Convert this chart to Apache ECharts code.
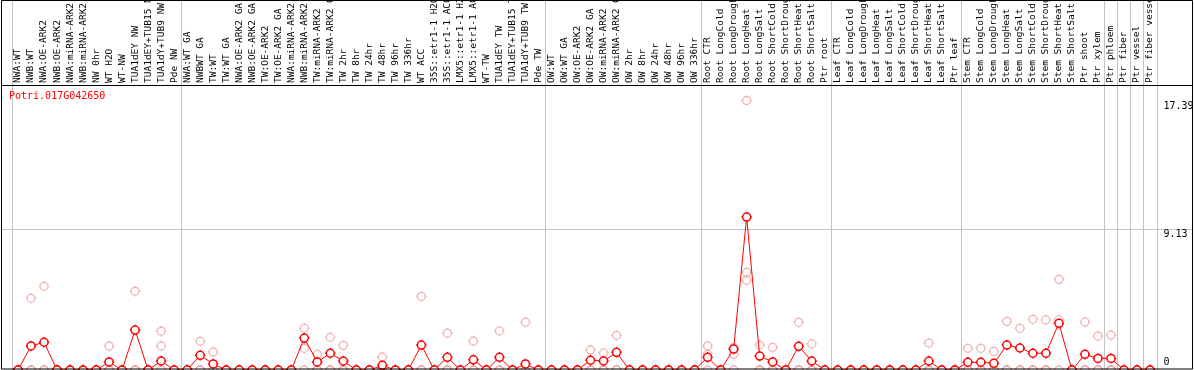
<!DOCTYPE html>
<html>
<head>
<meta charset="utf-8">
<script src="https://cdn.jsdelivr.net/npm/echarts@6/dist/echarts.min.js"></script>
<style>
html,body{margin:0;padding:0;background:#fff;}
#c{width:1194px;height:370px;}
</style>
</head>
<body>
<div id="c"></div>
<script>
// ---------- data ----------
const geneName = 'Potri.017G042650';

const categories = [
  'NWA:WT','NWB:WT','NWA:OE-ARK2','NWB:OE-ARK2','NWA:miRNA-ARK2','NWB:miRNA-ARK2','NW 0hr','WT H2O','WT-NW','TUA1dEY NW','TUA1dEY+TUB15 NW','TUA1dY+TUB9 NW','Pde NW',
  'NWA:WT GA','NWBWT GA','TW:WT','TW:WT GA','NWA:OE-ARK2 GA','NWB:OE-ARK2 GA','TW:OE-ARK2','TW:OE-ARK2 GA','NWA:miRNA-ARK2 GA','NWB:miRNA-ARK2 GA','TW:miRNA-ARK2','TW:miRNA-ARK2 GA','TW 2hr','TW 8hr','TW 24hr','TW 48hr','TW 96hr','TW 336hr','WT ACC','35S::etr1-1 H2O','35S::etr1-1 ACC','LMX5::etr1-1 H2O','LMX5::etr1-1 ACC','WT-TW','TUA1dEY TW','TUA1dEY+TUB15 TW','TUA1dY+TUB9 TW','Pde TW',
  'OW:WT','OW:WT GA','OW:OE-ARK2','OW:OE-ARK2 GA','OW:miRNA-ARK2','OW:miRNA-ARK2 GA','OW 2hr','OW 8hr','OW 24hr','OW 48hr','OW 96hr','OW 336hr',
  'Root CTR','Root LongCold','Root LongDrought','Root LongHeat','Root LongSalt','Root ShortCold','Root ShortDrought','Root ShortHeat','Root ShortSalt','Ptr root',
  'Leaf CTR','Leaf LongCold','Leaf LongDrought','Leaf LongHeat','Leaf LongSalt','Leaf ShortCold','Leaf ShortDrought','Leaf ShortHeat','Leaf ShortSalt','Ptr leaf',
  'Stem CTR','Stem LongCold','Stem LongDrought','Stem LongHeat','Stem LongSalt','Stem ShortCold','Stem ShortDrought','Stem ShortHeat','Stem ShortSalt','Ptr shoot','Ptr xylem',
  'Ptr phloem','Ptr fiber','Ptr vessel','Ptr fiber vessel'
];

// number of categories in each separated block
const groupSizes = [13, 28, 12, 10, 10, 11, 1, 1, 1, 1];

// mean expression (red line)
const meanValues = [
  0, 1.55, 1.79, 0, 0, 0, 0, 0.52, 0, 2.58, 0, 0.58, 0,
  0, 0.95, 0.39, 0, 0, 0, 0, 0, 0, 2.06, 0.52, 1.08, 0.58, 0, 0, 0.30, 0, 0, 1.61, 0, 0.82, 0, 0.66, 0, 0.82, 0, 0.39, 0,
  0, 0, 0, 0.63, 0.58, 1.14, 0, 0, 0, 0, 0, 0,
  0.82, 0, 1.35, 9.87, 0.90, 0.52, 0, 1.53, 0.58, 0,
  0, 0, 0, 0, 0, 0, 0, 0.58, 0, 0,
  0.50, 0.50, 0.43, 1.61, 1.42, 1.08, 1.08, 3.01, 0, 1.01, 0.75,
  0.75, 0, 0, 0
];

// replicate values (pink circles)
const replicate1 = [
  0, 4.63, 5.40, 0, 0, 0, 0, 1.55, 0, 5.08, 0, 2.50, 0,
  0, 1.85, 1.16, 0, 0, 0, 0, 0, 0, 2.69, 1.01, 2.11, 1.59, 0, 0, 0.84, 0, 0, 4.75, 0, 2.37, 0, 1.87, 0, 2.52, 0, 3.08, 0,
  0, 0, 0, 1.29, 1.10, 2.24, 0, 0, 0, 0, 0, 0,
  1.55, 0, 1.46, 17.39, 1.61, 1.46, 0, 3.08, 1.68, 0,
  0, 0, 0, 0, 0, 0, 0, 1.74, 0, 0,
  1.40, 1.40, 1.20, 3.14, 2.69, 3.27, 3.23, 5.85, 0, 3.10, 2.19,
  2.26, 0, 0, 0
];
const replicate2 = [
  0, 0, 0, 0, 0, 0, 0, 0, 0, 0, 0, 1.55, 0,
  0, 0, 0, 0, 0, 0, 0, 0, 0, 1.40, 0, 0, 0, 0, 0, 0, 0, 0, 0, 0, 0, 0, 0, 0, 0, 0, 0, 0,
  0, 0, 0, 0, 0, 0, 0, 0, 0, 0, 0, 0,
  1.01, 0, 1.01, 6.30, 0, 0, 0, 0, 0, 0,
  0, 0, 0, 0, 0, 0, 0, 0, 0, 0,
  0, 0, 0, 0, 0, 0, 0, 3.23, 0, 0, 0,
  0, 0, 0, 0
];
const replicate3 = [
  0, 0, 0, 0, 0, 0, 0, 0, 0, 0, 0, 0, 0,
  0, 0, 0, 0, 0, 0, 0, 0, 0, 0, 0, 0, 0, 0, 0, 0, 0, 0, 0, 0, 0, 0, 0, 0, 0, 0, 0, 0,
  0, 0, 0, 0, 0, 0, 0, 0, 0, 0, 0, 0,
  0, 0, 0, 5.79, 0, 0, 0, 0, 0, 0,
  0, 0, 0, 0, 0, 0, 0, 0, 0, 0,
  0, 0, 0, 0, 0, 0, 0, 0, 0, 0, 0,
  0, 0, 0, 0
];

// y tick labels shown at the right
const yTickValues = [0, 9.13, 17.39];
const yGridValues = [9.13];
const yMax = 18.39;

// ---------- chart ----------
const MONO = '"DejaVu Sans Mono", "Liberation Mono", monospace';
const RED = '#ff0000';
const PINK = '#f0a0a0';
const GRAY = '#c4c4c4';
const marker = 'path://M0,-4C2.21,-4,4,-2.21,4,0C4,2.21,2.21,4,0,4C-2.21,4,-4,2.21,-4,0C-4,-2.21,-2.21,-4,0,-4Z' +
  'M0,-4L0,-5.2M0,4L0,5.2M-4,0L-5.2,0M4,0L5.2,0';

const chart = echarts.init(document.getElementById('c'), null, {renderer: 'canvas'});

function repSeries(arr) {
  return {
    type: 'scatter',
    data: arr,
    symbol: marker,
    symbolSize: 10.4,
    itemStyle: {color: 'rgba(255,255,255,0)', borderColor: PINK, borderWidth: 1.3},
    emphasis: {disabled: true},
    silent: true,
    clip: false,
    z: 2
  };
}

chart.setOption({
  animation: false,
  title: {
    text: geneName, left: 9, top: 91, padding: 0,
    textStyle: {color: RED, fontFamily: MONO, fontSize: 10, fontWeight: 'normal'}
  },
  grid: {left: 11.5, right: 37.5, top: 85, bottom: 0, containLabel: false, outerBoundsMode: 'none'},
  xAxis: {
    type: 'category',
    data: categories,
    position: 'top',
    boundaryGap: true,
    axisLine: {show: false},
    axisTick: {show: false},
    splitLine: {show: false},
    axisLabel: {
      rotate: 90, interval: 0, margin: 2, hideOverlap: false,
      fontFamily: MONO, fontSize: 9.5, color: '#000'
    }
  },
  yAxis: {
    type: 'value', min: 0, max: yMax, position: 'right',
    axisLine: {show: false}, axisTick: {show: false},
    axisLabel: {show: false}, splitLine: {show: false}
  },
  series: [
    repSeries(replicate1),
    repSeries(replicate2),
    repSeries(replicate3),
    {
      type: 'line',
      data: meanValues,
      symbol: marker,
      symbolSize: 10.4,
      showAllSymbol: true,
      lineStyle: {color: RED, width: 1},
      itemStyle: {color: '#ffffff', borderColor: RED, borderWidth: 1.5},
      emphasis: {disabled: true},
      silent: true,
      clip: false,
      z: 5
    }
  ]
});

// decorations derived from the axes' own scales
const px0 = chart.convertToPixel({xAxisIndex: 0}, 0);
const px1 = chart.convertToPixel({xAxisIndex: 0}, 1);
const band = px1 - px0;
const xStart = px0 - band / 2;
const W = 1194, H = 370;
const graphics = [];

let cum = 0;
const bounds = [0];
groupSizes.forEach(s => { cum += s; bounds.push(cum); });
bounds.forEach(b => {
  const x = Math.round(xStart + b * band) + 0.5;
  graphics.push({type: 'line', z: 0, silent: true,
    shape: {x1: x, y1: 0, x2: x, y2: H},
    style: {stroke: GRAY, lineWidth: 1}});
});

yGridValues.forEach(v => {
  const y = Math.round(chart.convertToPixel({yAxisIndex: 0}, v)) + 0.5;
  graphics.push({type: 'line', z: 0, silent: true,
    shape: {x1: 1, y1: y, x2: W - 1, y2: y},
    style: {stroke: GRAY, lineWidth: 1}});
});

const labelX = xStart + categories.length * band + 7;
yTickValues.forEach(v => {
  const y = chart.convertToPixel({yAxisIndex: 0}, v);
  const atBottom = v === 0;
  graphics.push({type: 'text', z: 50, silent: true,
    style: {
      text: String(v), x: labelX, y: atBottom ? y - 3 : y + 1,
      font: '10px ' + MONO, fill: '#000',
      align: 'left', verticalAlign: atBottom ? 'bottom' : 'top'
    }});
});

// frame
graphics.push({type: 'rect', z: 100, silent: true,
  shape: {x: 1.5, y: 0.5, width: W - 3, height: 368.5},
  style: {fill: 'none', stroke: '#000', lineWidth: 1}});
const topY = chart.convertToPixel({yAxisIndex: 0}, yMax);
graphics.push({type: 'line', z: 100, silent: true,
  shape: {x1: 1, y1: Math.round(topY) + 0.5, x2: W - 1, y2: Math.round(topY) + 0.5},
  style: {stroke: '#000', lineWidth: 1}});

chart.setOption({graphic: {elements: graphics}});
</script>
</body>
</html>
